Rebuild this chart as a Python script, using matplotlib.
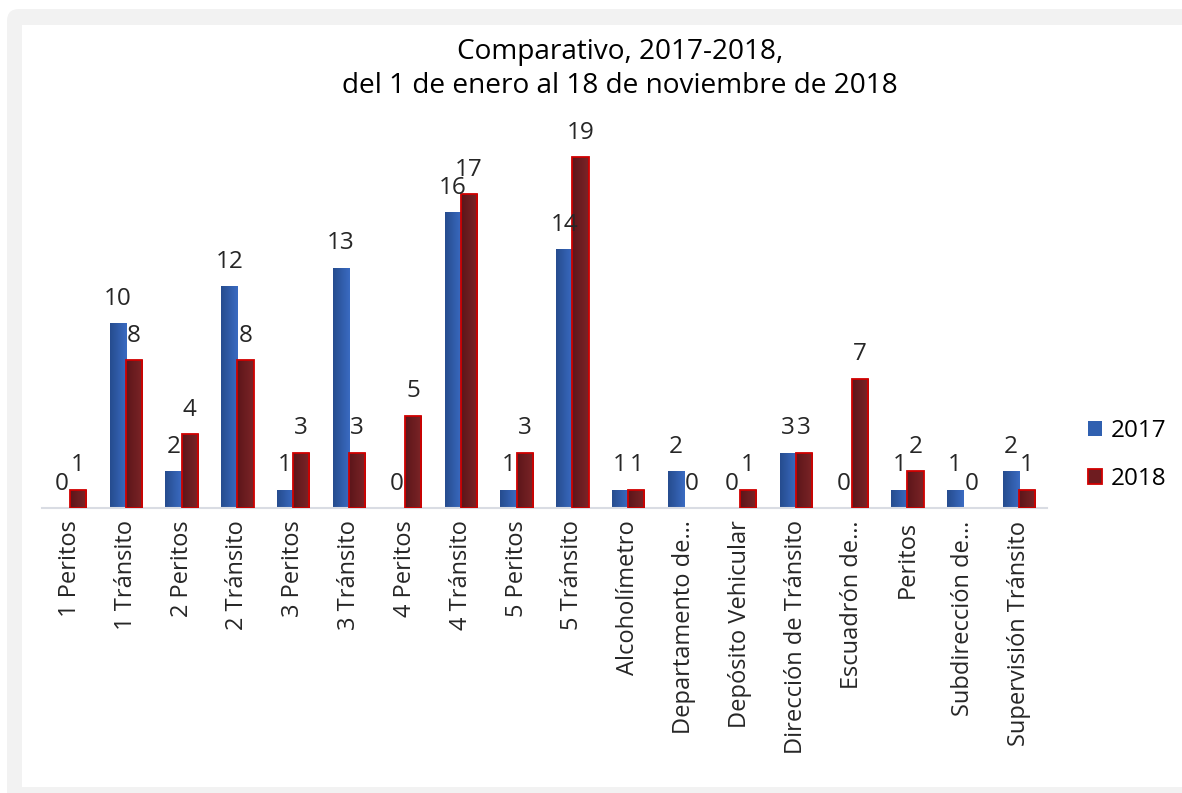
import matplotlib
matplotlib.use("Agg")
import matplotlib.pyplot as plt
import numpy as np
from matplotlib.patches import FancyBboxPatch, Rectangle, Patch
from matplotlib.colors import LinearSegmentedColormap

plt.rcParams['font.family'] = ['Open Sans', 'DejaVu Sans']

categories = ["1 Peritos", "1 Tránsito", "2 Peritos", "2 Tránsito", "3 Peritos",
              "3 Tránsito", "4 Peritos", "4 Tránsito", "5 Peritos", "5 Tránsito",
              "Alcoholímetro", "Departamento de…", "Depósito Vehicular",
              "Dirección de Tránsito", "Escuadrón de…", "Peritos",
              "Subdirección de…", "Supervisión Tránsito"]
v2017 = [0, 10, 2, 12, 1, 13, 0, 16, 1, 14, 1, 2, 0, 3, 0, 1, 1, 2]
v2018 = [1, 8, 4, 8, 3, 3, 5, 17, 3, 19, 1, 0, 1, 3, 7, 2, 0, 1]
series_names = ["2017", "2018"]
title = "Comparativo, 2017-2018,\ndel 1 de enero al 18 de noviembre de 2018"

W, H = 1182, 793
fig = plt.figure(figsize=(W / 100, H / 100), dpi=100)

# background frame
bg = fig.add_axes([0, 0, 1, 1])
bg.set_xlim(0, W)
bg.set_ylim(H, 0)
bg.axis('off')
bg.add_patch(FancyBboxPatch((7, 9), W + 40, H - 9 + 40,
                            boxstyle="round,pad=0,rounding_size=12",
                            facecolor="#F2F2F2", edgecolor="none"))
bg.add_patch(Rectangle((22, 25), W, 787 - 25, facecolor="white", edgecolor="none"))

# main axes
x0, x1 = 42, 1047
ybase, ytop = 508, 508 - 20 * 18.47
ax = fig.add_axes([x0 / W, 1 - ybase / H, (x1 - x0) / W, (ybase - ytop) / H])
ax.set_facecolor('none')
n = len(categories)
x = np.arange(n)
bw = 0.29

blue_cmap = LinearSegmentedColormap.from_list("b", ["#264C8E", "#3A6BC2"])
red_cmap = LinearSegmentedColormap.from_list("r", ["#5C161A", "#7C2427"])
grad = np.linspace(0, 1, 64).reshape(1, -1)

b1 = ax.bar(x - bw / 2, v2017, bw, color="#3060B0", edgecolor="none", zorder=2)
b2 = ax.bar(x + bw / 2, v2018, bw, color="#6E1C20", edgecolor="#D00000", linewidth=1.3, zorder=3)

for bars, cmap in ((b1, blue_cmap), (b2, red_cmap)):
    for r in bars:
        h = r.get_height()
        r.set_facecolor('none')
        if h <= 0:
            r.set_linewidth(0)
            continue
        xl = r.get_x()
        im = ax.imshow(grad, cmap=cmap, aspect='auto', extent=(xl, xl + r.get_width(), 0, h),
                       zorder=r.get_zorder() - 0.05, interpolation='bilinear')
        im.set_clip_path(r)
ax.set_xlim(-0.5, n - 0.5)
ax.set_ylim(0, 20)

# labels
for bars, vals in ((b1, v2017), (b2, v2018)):
    for r, v in zip(bars, vals):
        ax.annotate(str(v), (r.get_x() + r.get_width() / 2, v), xytext=(0, 9),
                    textcoords='offset points', ha='center', va='bottom',
                    fontsize=17.5, color='#262626')

ax.set_xticks(x)
ax.set_xticklabels(categories, rotation=90, fontsize=17, color='#262626')
ax.tick_params(axis='x', length=0, pad=9)
ax.set_yticks([])
for s in ['top', 'right', 'left']:
    ax.spines[s].set_visible(False)
ax.spines['bottom'].set_color('#D9DCE3')
ax.spines['bottom'].set_linewidth(1.5)

# title
fig.text(620 / W, 1 - 69 / H, title, ha='center', va='center', fontsize=20.2,
         color='#000000', linespacing=1.33)

# legend
handles = [Patch(facecolor="#3060B0", edgecolor="none"),
           Patch(facecolor="#6E1C20", edgecolor="#D00000", linewidth=1.3)]
fig.legend(handles, series_names, loc='center left', bbox_to_anchor=(1066 / W, 1 - 455 / H),
           frameon=False, fontsize=17.5, handlelength=0.6, handleheight=0.6,
           handletextpad=0.35, labelspacing=1.0)

fig.savefig("out.png", dpi=100)
